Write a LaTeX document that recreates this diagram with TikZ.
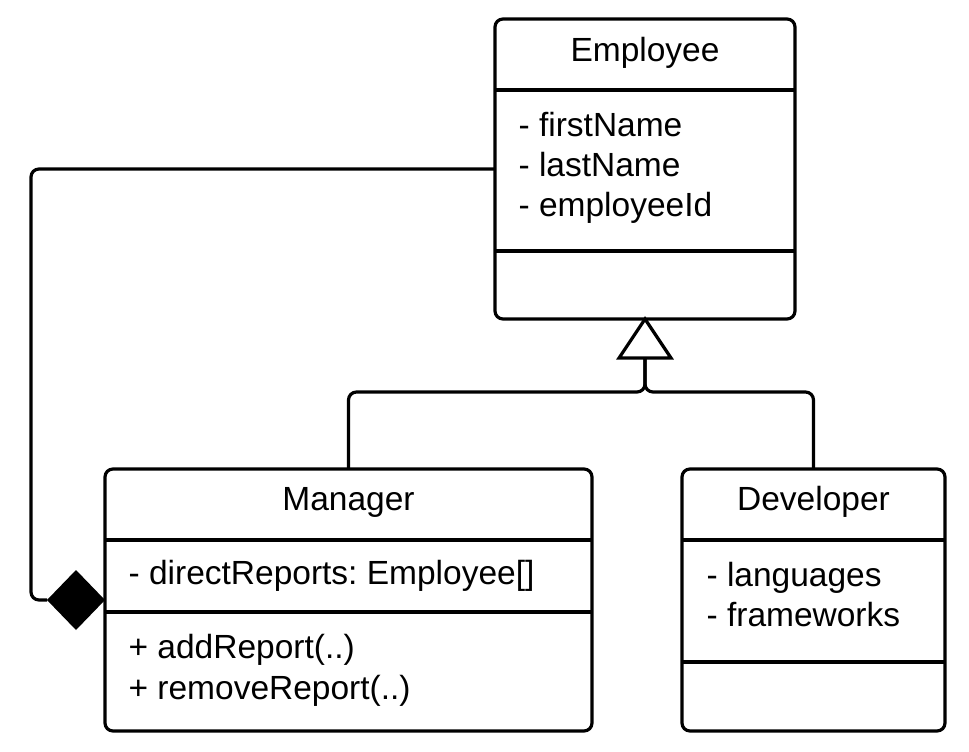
\documentclass[tikz,border=0pt]{standalone}
\usepackage{fontspec}
\setmainfont{Liberation Sans}
\frenchspacing
\usetikzlibrary{shapes.geometric}
\begin{document}
\begin{tikzpicture}[x=1pt,y=-1pt,line width=3.2pt,
  classbox/.style={draw,rectangle,rounded corners=8pt,inner sep=0pt,outer sep=0pt,fill=white},
  lbl/.style={inner sep=0pt,font=\fontsize{33.5}{40}\selectfont},
  conn/.style={rounded corners=8pt}]
\useasboundingbox[fill=white] (0,0) rectangle (969,752);
% class boxes
\node[classbox,minimum width=300pt,minimum height=300pt] (emp) at (645,169) {};
\node[classbox,minimum width=487pt,minimum height=262pt] (mgr) at (348.5,600) {};
\node[classbox,minimum width=263pt,minimum height=262pt] (dev) at (813.5,600) {};
% compartments
\draw ([yshift=-71pt]emp.north west) -- ([yshift=-71pt]emp.north east);
\draw ([yshift=-232pt]emp.north west) -- ([yshift=-232pt]emp.north east);
\draw ([yshift=-71pt]mgr.north west) -- ([yshift=-71pt]mgr.north east);
\draw ([yshift=-143pt]mgr.north west) -- ([yshift=-143pt]mgr.north east);
\draw ([yshift=-71pt]dev.north west) -- ([yshift=-71pt]dev.north east);
\draw ([yshift=-193pt]dev.north west) -- ([yshift=-193pt]dev.north east);
% texts
\node[lbl,anchor=base] (empT) at (645,61.7) {Employee};
\node[lbl,anchor=base west] (empA1) at (517,136.7) {- firstName};
\node[lbl,anchor=base west] (empA2) at (517,176.7) {- lastName};
\node[lbl,anchor=base west] (empA3) at (517,216.7) {- employeeId};
\node[lbl,anchor=base] (mgrT) at (348.5,510.7) {Manager};
\node[lbl,anchor=base west] (mgrA1) at (127,584) {- directReports: Employee[]};
\node[lbl,anchor=base west] (mgrM1) at (127,658.5) {+ addReport(..)};
\node[lbl,anchor=base west] (mgrM2) at (127,699) {+ removeReport(..)};
\node[lbl,anchor=base] (devT) at (813.5,510.7) {Developer};
\node[lbl,anchor=base west] (devA1) at (705,586.5) {- languages};
\node[lbl,anchor=base west] (devA2) at (705,626) {- frameworks};
% generalization
\coordinate (tb) at ([yshift=-39pt]emp.south);
\draw[conn] (tb) -- ++(0,34) -| (mgr.north);
\draw[conn] (tb) -- ++(0,34) -| (dev.north);
\draw[fill=white,line join=miter] (emp.south) -- ++(-26,39) -- ++(52,0) -- cycle;
% composition
\node[diamond,fill=black,draw=none,minimum width=58pt,minimum height=60pt,inner sep=0pt,outer sep=0pt,anchor=east] (dia) at (mgr.west) {};
\draw[conn] (emp.west) -- (31,169) |- (dia.west);
\end{tikzpicture}
\end{document}
